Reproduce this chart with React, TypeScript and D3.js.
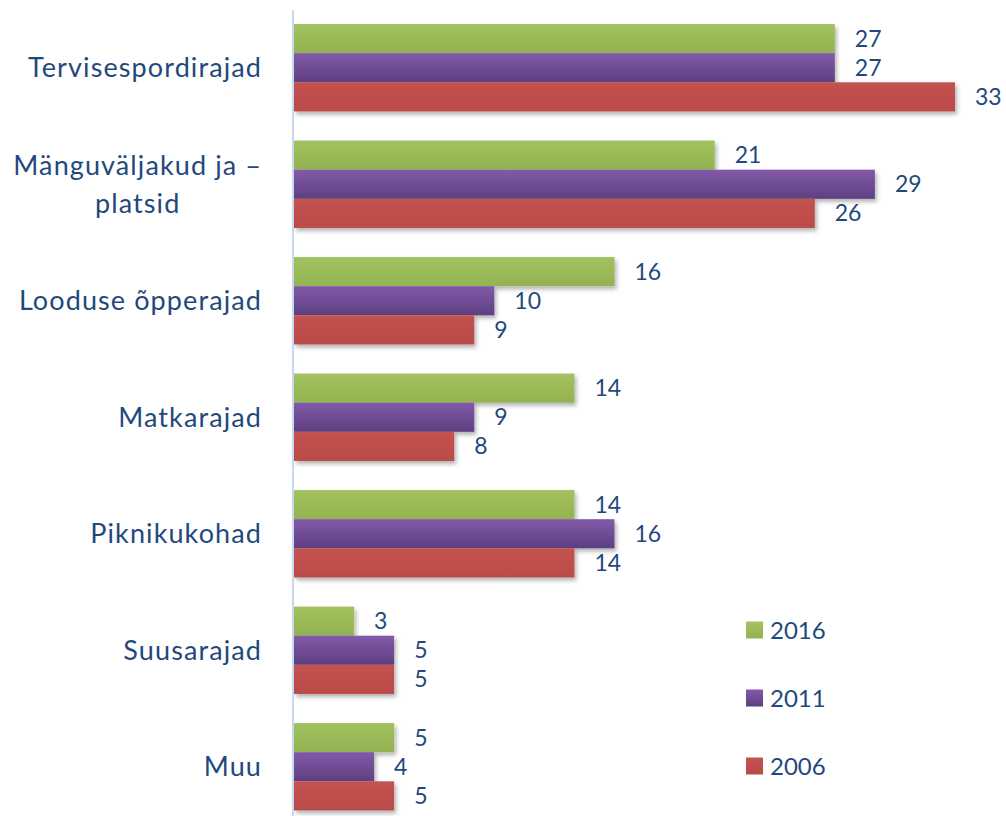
import React, { useEffect, useRef } from "react";
import * as d3 from "d3";

const categories = [
  "Tervisespordirajad",
  "Mänguväljakud ja –\nplatsid",
  "Looduse õpperajad",
  "Matkarajad",
  "Piknikukohad",
  "Suusarajad",
  "Muu",
];
const years = ["2016", "2011", "2006"];
const values2016 = [27, 21, 16, 14, 14, 3, 5];
const values2011 = [27, 29, 10, 9, 16, 5, 4];
const values2006 = [33, 26, 9, 8, 14, 5, 5];
const seriesValues = [values2016, values2011, values2006];

const W = 1006;
const H = 816;
const TEXT = "#1F497D";
const FONT = "Lato, 'Open Sans', sans-serif";

export default function App() {
  const ref = useRef<SVGSVGElement>(null);

  useEffect(() => {
    const svg = d3.select(ref.current);
    svg.selectAll("*").remove();

    const defs = svg.append("defs");
    const grads = [
      { id: "g2016", top: "#A2C15F", bot: "#93B352" },
      { id: "g2011", top: "#8259A9", bot: "#5D4080" },
      { id: "g2006", top: "#C4524F", bot: "#BA4B48" },
    ];
    grads.forEach((g) => {
      const lg = defs
        .append("linearGradient")
        .attr("id", g.id)
        .attr("x1", 0)
        .attr("y1", 0)
        .attr("x2", 0)
        .attr("y2", 1);
      lg.append("stop").attr("offset", "0%").attr("stop-color", g.top);
      lg.append("stop").attr("offset", "100%").attr("stop-color", g.bot);
    });
    const f = defs
      .append("filter")
      .attr("id", "shadow")
      .attr("x", "-5%")
      .attr("y", "-20%")
      .attr("width", "115%")
      .attr("height", "160%");
    f.append("feDropShadow")
      .attr("dx", 2)
      .attr("dy", 3)
      .attr("stdDeviation", 2)
      .attr("flood-color", "#000")
      .attr("flood-opacity", 0.3);

    const x = d3.scaleLinear().domain([0, 33]).range([294, 955]);
    const y = d3
      .scaleBand<string>()
      .domain(categories)
      .range([9.5, 825])
      .paddingInner(0.25)
      .paddingOuter(0.125);
    const ySub = d3
      .scaleBand<string>()
      .domain(years)
      .range([0, y.bandwidth()]);

    const groups = svg
      .append("g")
      .selectAll("g")
      .data(categories)
      .join("g")
      .attr("transform", (c) => `translate(0,${y(c)})`)
      .attr("filter", "url(#shadow)");

    categories.forEach((c, ci) => {
      const g = groups.filter((d) => d === c);
      years.forEach((yr, si) => {
        const v = seriesValues[si][ci];
        g.append("rect")
          .attr("x", x(0))
          .attr("y", ySub(yr)!)
          .attr("width", x(v) - x(0))
          .attr("height", ySub.bandwidth())
          .attr("fill", `url(#g${yr})`);
      });
    });

    // value labels
    categories.forEach((c, ci) => {
      years.forEach((yr, si) => {
        const v = seriesValues[si][ci];
        svg
          .append("text")
          .attr("x", x(v) + 20)
          .attr("y", y(c)! + ySub(yr)! + ySub.bandwidth() / 2)
          .attr("dy", "0.35em")
          .attr("font-family", FONT)
          .attr("font-size", 23)
          .attr("fill", TEXT)
          .text(String(v));
      });
    });

    // axis line
    svg
      .append("line")
      .attr("x1", 293)
      .attr("x2", 293)
      .attr("y1", 10)
      .attr("y2", H)
      .attr("stroke", "#C6D9F1")
      .attr("stroke-width", 2);

    // category labels
    const right = 262;
    categories.forEach((c) => {
      const lines = c.split("\n");
      const cy = y(c)! + y.bandwidth() / 2;
      const lh = 38;
      const t = svg
        .append("text")
        .attr("font-family", FONT)
        .attr("font-size", 27)
        .attr("letter-spacing", 1.1)
        .attr("fill", TEXT)
        .attr("text-anchor", "middle");
      lines.forEach((l, i) => {
        t.append("tspan")
          .attr("x", 0)
          .attr("y", cy + (i - (lines.length - 1) / 2) * lh)
          .attr("dy", "0.35em")
          .text(l);
      });
      const bb = (t.node() as SVGTextElement).getBBox();
      t.selectAll("tspan").attr("x", right - bb.width / 2);
    });

    // legend
    const legY = [630, 698, 766];
    years.forEach((yr, i) => {
      svg
        .append("rect")
        .attr("x", 746)
        .attr("y", legY[i] - 8.5)
        .attr("width", 17)
        .attr("height", 17)
        .attr("fill", `url(#g${yr})`);
      svg
        .append("text")
        .attr("x", 770)
        .attr("y", legY[i] + 1)
        .attr("dy", "0.35em")
        .attr("font-family", FONT)
        .attr("font-size", 24)
        .attr("fill", TEXT)
        .text(yr);
    });
  }, []);

  return (
    <svg
      ref={ref}
      width={W}
      height={H}
      style={{ position: "absolute", left: 0, top: 0, background: "#fff" }}
    />
  );
}
